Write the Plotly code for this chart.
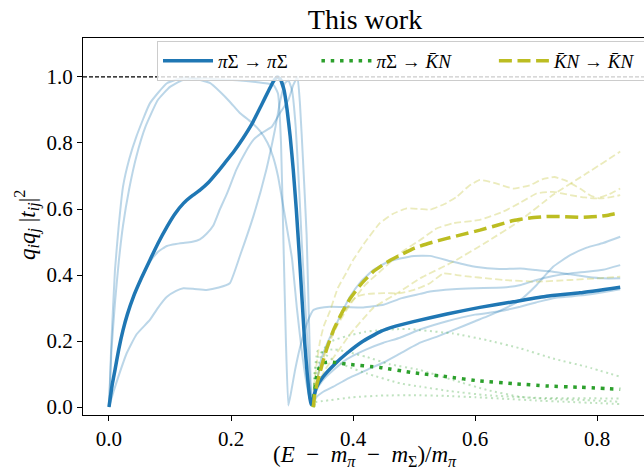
import plotly.graph_objects as go

# ---------------- data ----------------
# best fit: pi Sigma -> pi Sigma
pisig_pisig_x = [0, 0.005, 0.0098, 0.016, 0.023, 0.03, 0.04, 0.053, 0.067, 0.08, 0.095, 0.108, 0.122, 0.135,
                 0.149, 0.163, 0.177, 0.19, 0.205, 0.22, 0.235, 0.25, 0.262, 0.27, 0.276, 0.281, 0.287, 0.292,
                 0.297, 0.302, 0.307, 0.312, 0.317, 0.321, 0.325, 0.328, 0.331, 0.334, 0.34, 0.351, 0.37, 0.39,
                 0.415, 0.444, 0.47, 0.499, 0.554, 0.608, 0.663, 0.717, 0.772, 0.838]
pisig_pisig_y = [0, 0.065, 0.112, 0.175, 0.233, 0.28, 0.334, 0.39, 0.445, 0.495, 0.546, 0.585, 0.617, 0.638,
                 0.657, 0.68, 0.71, 0.74, 0.775, 0.815, 0.86, 0.915, 0.96, 0.988, 1.0, 0.993, 0.96, 0.9,
                 0.82, 0.72, 0.6, 0.46, 0.31, 0.19, 0.1, 0.045, 0.008, 0.02, 0.06, 0.092, 0.13, 0.163,
                 0.198, 0.228, 0.245, 0.259, 0.282, 0.302, 0.319, 0.336, 0.346, 0.363]

# best fit: pi Sigma -> Kbar N
pisig_kn_x = [0.335, 0.337, 0.34, 0.345, 0.352, 0.362, 0.39, 0.444, 0.499, 0.554, 0.608, 0.663, 0.717, 0.772, 0.838]
pisig_kn_y = [0, 0.05, 0.09, 0.12, 0.134, 0.137, 0.13, 0.12, 0.104, 0.092, 0.079, 0.071, 0.064, 0.06, 0.054]

# best fit: Kbar N -> Kbar N
kn_kn_x = [0.335, 0.337, 0.341, 0.346, 0.351, 0.357, 0.368, 0.383, 0.395, 0.413, 0.433, 0.455, 0.477, 0.5, 0.526,
           0.554, 0.58, 0.608, 0.635, 0.663, 0.69, 0.717, 0.745, 0.772, 0.8, 0.82, 0.838]
kn_kn_y = [0, 0.035, 0.07, 0.105, 0.14, 0.177, 0.233, 0.29, 0.328, 0.372, 0.41, 0.438, 0.46, 0.481, 0.497,
           0.511, 0.523, 0.536, 0.55, 0.565, 0.573, 0.577, 0.577, 0.575, 0.577, 0.582, 0.589]

# bootstrap samples, pi Sigma -> pi Sigma
s1_pp_x = [0, 0.004, 0.01, 0.016, 0.023, 0.033, 0.045, 0.06, 0.08, 0.1, 0.12, 0.15, 0.18, 0.21, 0.24, 0.26, 0.27,
           0.277, 0.282, 0.286, 0.29, 0.294, 0.298, 0.305, 0.313, 0.321, 0.328, 0.335, 0.345, 0.362, 0.39, 0.417,
           0.45, 0.48, 0.51, 0.526, 0.564, 0.6, 0.646, 0.675, 0.701, 0.728, 0.756, 0.783, 0.81, 0.838]
s1_pp_y = [0, 0.17, 0.32, 0.44, 0.55, 0.66, 0.76, 0.85, 0.93, 0.97, 0.99, 0.997, 0.993, 0.99, 0.985, 0.98, 0.975,
           0.95, 0.8, 0.5, 0.2, 0.005, 0.04, 0.112, 0.18, 0.233, 0.27, 0.294, 0.3, 0.304, 0.303, 0.302,
           0.31, 0.33, 0.343, 0.35, 0.357, 0.36, 0.362, 0.37, 0.385, 0.397, 0.405, 0.41, 0.416, 0.43]

s2_pp_x = [0, 0.004, 0.0098, 0.016, 0.023, 0.033, 0.045, 0.067, 0.095, 0.127, 0.166, 0.182, 0.198, 0.215, 0.232,
           0.248, 0.26, 0.269, 0.277, 0.283, 0.291, 0.3, 0.308, 0.316, 0.324, 0.33, 0.333, 0.338, 0.346, 0.357,
           0.368, 0.38, 0.395, 0.413, 0.433, 0.455, 0.477, 0.5, 0.526, 0.564, 0.6, 0.64, 0.674, 0.7, 0.728, 0.756,
           0.783, 0.81, 0.838]
s2_pp_y = [0, 0.2, 0.415, 0.55, 0.668, 0.75, 0.82, 0.92, 0.981, 1.0, 0.981, 0.955, 0.925, 0.89, 0.865,
           0.835, 0.8, 0.758, 0.7, 0.637, 0.55, 0.45, 0.3, 0.17, 0.07, 0.02, 0.005, 0.04, 0.132, 0.19,
           0.233, 0.28, 0.334, 0.38, 0.415, 0.438, 0.45, 0.458, 0.458, 0.44, 0.425, 0.418, 0.42, 0.415, 0.41, 0.402,
           0.395, 0.39, 0.39]

s3_pp_x = [0, 0.005, 0.0098, 0.016, 0.023, 0.03, 0.04, 0.053, 0.067, 0.08, 0.095, 0.11, 0.122, 0.135, 0.149, 0.16,
           0.171, 0.182, 0.193, 0.209, 0.223, 0.237, 0.25, 0.267, 0.28, 0.294, 0.302, 0.309, 0.313, 0.318, 0.324,
           0.328, 0.331, 0.334, 0.34, 0.35, 0.368, 0.39, 0.422, 0.45, 0.477, 0.51, 0.554, 0.6, 0.64, 0.674, 0.7,
           0.728, 0.756, 0.783, 0.81, 0.838]
s3_pp_y = [0, 0.06, 0.112, 0.175, 0.233, 0.28, 0.334, 0.39, 0.44, 0.47, 0.488, 0.494, 0.497, 0.5, 0.508, 0.525,
           0.55, 0.6, 0.645, 0.72, 0.77, 0.81, 0.83, 0.849, 0.89, 0.93, 0.975, 1.0, 0.92, 0.75, 0.52,
           0.25, 0.06, 0.01, 0.05, 0.08, 0.112, 0.145, 0.175, 0.195, 0.21, 0.235, 0.26, 0.28, 0.29, 0.304, 0.317,
           0.33, 0.335, 0.34, 0.348, 0.357]

s4_pp_x = [0, 0.008, 0.015, 0.029, 0.045, 0.067, 0.08, 0.095, 0.11, 0.122, 0.14, 0.16, 0.18, 0.198, 0.215, 0.237,
           0.258, 0.272, 0.281, 0.288, 0.294, 0.3, 0.306, 0.312, 0.316, 0.322, 0.328, 0.332, 0.334, 0.34, 0.35,
           0.368, 0.39, 0.422, 0.45, 0.477, 0.51, 0.54, 0.564, 0.6, 0.619, 0.65, 0.674, 0.701, 0.728, 0.756,
           0.783, 0.81, 0.838]
s4_pp_y = [0, 0.05, 0.09, 0.163, 0.22, 0.264, 0.3, 0.334, 0.352, 0.36, 0.358, 0.355, 0.362, 0.375, 0.46, 0.58,
           0.72, 0.84, 0.93, 0.98, 0.99, 0.96, 0.85, 0.65, 0.5, 0.3, 0.12, 0.02, 0.01, 0.03, 0.045,
           0.062, 0.085, 0.112, 0.135, 0.162, 0.195, 0.215, 0.233, 0.26, 0.274, 0.3, 0.324, 0.37, 0.425, 0.46,
           0.483, 0.497, 0.516]

# bootstrap samples, pi Sigma -> Kbar N
s1_pk_x = [0.335, 0.337, 0.342, 0.351, 0.365, 0.39, 0.42, 0.444, 0.47, 0.499, 0.51, 0.564, 0.619, 0.674, 0.728, 0.783, 0.838]
s1_pk_y = [0, 0.07, 0.12, 0.173, 0.2, 0.215, 0.228, 0.233, 0.236, 0.236, 0.233, 0.223, 0.203, 0.178, 0.147, 0.122, 0.092]
s2_pk_x = [0.335, 0.337, 0.342, 0.35, 0.368, 0.395, 0.422, 0.477, 0.51, 0.56, 0.619, 0.7, 0.838]
s2_pk_y = [0, 0.1, 0.17, 0.165, 0.142, 0.12, 0.102, 0.072, 0.062, 0.048, 0.036, 0.028, 0.026]
s3_pk_x = [0.335, 0.337, 0.342, 0.35, 0.37, 0.395, 0.422, 0.46, 0.51, 0.564, 0.619, 0.674, 0.728, 0.783, 0.838]
s3_pk_y = [0, 0.1, 0.15, 0.17, 0.175, 0.165, 0.152, 0.13, 0.112, 0.082, 0.052, 0.031, 0.024, 0.021, 0.016]
s4_pk_x = [0.335, 0.338, 0.35, 0.4, 0.45, 0.5, 0.55, 0.6, 0.65, 0.7, 0.75, 0.8, 0.838]
s4_pk_y = [0, 0.015, 0.018, 0.03, 0.035, 0.036, 0.034, 0.03, 0.025, 0.02, 0.016, 0.012, 0.009]

# bootstrap samples, Kbar N -> Kbar N
s1_kk_x = [0.335, 0.337, 0.341, 0.346, 0.352, 0.362, 0.375, 0.39, 0.4, 0.42, 0.444, 0.465, 0.488, 0.51, 0.526, 0.55,
           0.57, 0.59, 0.608, 0.63, 0.663, 0.69, 0.71, 0.73, 0.75, 0.772, 0.79, 0.805, 0.82, 0.838]
s1_kk_y = [0, 0.08, 0.14, 0.2, 0.245, 0.29, 0.36, 0.41, 0.445, 0.5, 0.557, 0.585, 0.602, 0.6, 0.598, 0.615,
           0.637, 0.67, 0.688, 0.68, 0.662, 0.672, 0.69, 0.697, 0.685, 0.662, 0.64, 0.632, 0.635, 0.642]
s2_kk_x = [0.335, 0.337, 0.345, 0.355, 0.368, 0.395, 0.433, 0.477, 0.51, 0.564, 0.619, 0.674, 0.728, 0.783, 0.838]
s2_kk_y = [0, 0.03, 0.08, 0.115, 0.15, 0.22, 0.3, 0.35, 0.39, 0.44, 0.5, 0.565, 0.643, 0.708, 0.774]
s3_kk_x = [0.335, 0.338, 0.346, 0.357, 0.37, 0.384, 0.395, 0.406, 0.425, 0.45, 0.477, 0.5, 0.526, 0.548, 0.57,
           0.592, 0.62, 0.646, 0.701, 0.756, 0.8, 0.838]
s3_kk_y = [0, 0.06, 0.12, 0.183, 0.24, 0.284, 0.315, 0.335, 0.343, 0.345, 0.345, 0.355, 0.375, 0.405, 0.4,
           0.395, 0.39, 0.385, 0.38, 0.385, 0.39, 0.395]
s4_kk_x = [0.335, 0.337, 0.342, 0.35, 0.36, 0.375, 0.395, 0.42, 0.45, 0.48, 0.51, 0.537, 0.564, 0.608, 0.646, 0.675,
           0.701, 0.728, 0.756, 0.78, 0.799, 0.82, 0.838]
s4_kk_y = [0, 0.04, 0.09, 0.14, 0.19, 0.25, 0.31, 0.37, 0.42, 0.47, 0.506, 0.541, 0.557, 0.567, 0.592, 0.62,
           0.647, 0.652, 0.642, 0.635, 0.632, 0.645, 0.662]

NB = "\u00a0"
legend_names = ["<i>π</i>Σ → <i>π</i>Σ" + NB * 5, "<i>π</i>Σ → <i>K\u0304N</i>" + NB * 8,
                "<i>K\u0304N</i> → <i>K\u0304N</i>" + NB * 4]
x_ticks = [0.0, 0.2, 0.4, 0.6, 0.8]
y_ticks = [0.0, 0.2, 0.4, 0.6, 0.8, 1.0]
title_text = "This work"
x_label = ("(<i>E</i>" + NB + " − " + NB + "<i>m</i><sub><i>π</i></sub>" + NB + " − " + NB
           + "<i>m</i><sub>Σ</sub>)/<i>m</i><sub><i>π</i></sub>")
y_label = "<i>q</i><sub><i>i</i></sub><i>q</i><sub><i>j</i></sub>" + NB + "|<i>t</i><sub><i>ij</i></sub>|<sup>2</sup>"

# ---------------- styling ----------------
BLUE = "#1f77b4"
GREEN = "#2ca02c"
OLIVE = "#bcbd22"
FAINT_BLUE = "rgba(31,119,180,0.3)"
FAINT_GREEN = "rgba(44,160,44,0.3)"
FAINT_OLIVE = "rgba(188,189,34,0.3)"
FONT = "Liberation Serif"

fig = go.Figure()


def add(x, y, color, width, dash, name=None, show=False):
    fig.add_trace(go.Scatter(
        x=x, y=y, mode="lines", name=name, showlegend=show,
        line=dict(color=color, width=width, dash=dash, shape="spline", smoothing=0.4),
        hoverinfo="skip"))


for xs, ys in [(s1_pp_x, s1_pp_y), (s2_pp_x, s2_pp_y), (s3_pp_x, s3_pp_y), (s4_pp_x, s4_pp_y)]:
    add(xs, ys, FAINT_BLUE, 2, "solid")
for xs, ys in [(s1_pk_x, s1_pk_y), (s2_pk_x, s2_pk_y), (s3_pk_x, s3_pk_y), (s4_pk_x, s4_pk_y)]:
    add(xs, ys, FAINT_GREEN, 2, "2px,3.5px")
for xs, ys in [(s1_kk_x, s1_kk_y), (s2_kk_x, s2_kk_y), (s3_kk_x, s3_kk_y), (s4_kk_x, s4_kk_y)]:
    add(xs, ys, FAINT_OLIVE, 1.8, "7px,3.2px")

add(pisig_pisig_x, pisig_pisig_y, BLUE, 3.5, "solid", legend_names[0], True)
add(pisig_kn_x, pisig_kn_y, GREEN, 3.5, "3.5px,5.8px", legend_names[1], True)
add(kn_kn_x, kn_kn_y, OLIVE, 3.5, "13px,5.6px", legend_names[2], True)

fig.add_hline(y=1.0, line=dict(color="black", width=1.2, dash="4px,2px"))

PLOT_L, PLOT_R, PLOT_T, PLOT_B = 83, 644, 38, 415
PW, PH = PLOT_R - PLOT_L, PLOT_B - PLOT_T

fig.update_layout(
    width=644, height=470,
    margin=dict(l=PLOT_L, r=644 - PLOT_R, t=PLOT_T, b=470 - PLOT_B, autoexpand=False),
    paper_bgcolor="white", plot_bgcolor="white",
    font=dict(family=FONT, color="black", size=20),
    title=dict(text=title_text, x=(365 - PLOT_L) / PW, xref="paper", xanchor="center",
               y=1 - 19 / 470, yanchor="middle",
               font=dict(family=FONT, size=28, color="black")),
    legend=dict(orientation="h", x=(157 - PLOT_L) / PW, y=1 - 3 / PH, xanchor="left", yanchor="top",
                bgcolor="rgba(255,255,255,0.8)", bordercolor="#cccccc", borderwidth=1,
                font=dict(family=FONT, size=19), itemwidth=50, tracegroupgap=0),
    showlegend=True,
    annotations=[
        dict(text=x_label, xref="paper", yref="paper", x=(365 - PLOT_L) / PW, y=(PLOT_B - 456) / PH,
             xanchor="center", yanchor="middle", showarrow=False, font=dict(family=FONT, size=23)),
        dict(text=y_label, xref="paper", yref="paper", x=(27 - PLOT_L) / PW, y=(PLOT_B - 225) / PH,
             xanchor="center", yanchor="middle", textangle=-90, showarrow=False,
             font=dict(family=FONT, size=23)),
    ],
)
fig.update_xaxes(range=[-0.0426, 0.877], tickvals=x_ticks, ticktext=[f"{v:.1f}" for v in x_ticks],
                 showgrid=False, zeroline=False, showline=True, linecolor="black", linewidth=1, mirror=True,
                 ticks="outside", ticklen=5, tickwidth=1, tickcolor="black", automargin=False,
                 tickfont=dict(family=FONT, size=21))
fig.update_yaxes(range=[-0.024, 1.118], tickvals=y_ticks, ticktext=[f"{v:.1f}" for v in y_ticks],
                 showgrid=False, zeroline=False, showline=True, linecolor="black", linewidth=1,
                 ticks="outside", ticklen=5, tickwidth=1, tickcolor="black", automargin=False,
                 tickfont=dict(family=FONT, size=21))

fig.write_html("out.html", config={"displayModeBar": False},
               post_script="document.body.style.margin='0px';document.body.style.overflow='hidden';")
